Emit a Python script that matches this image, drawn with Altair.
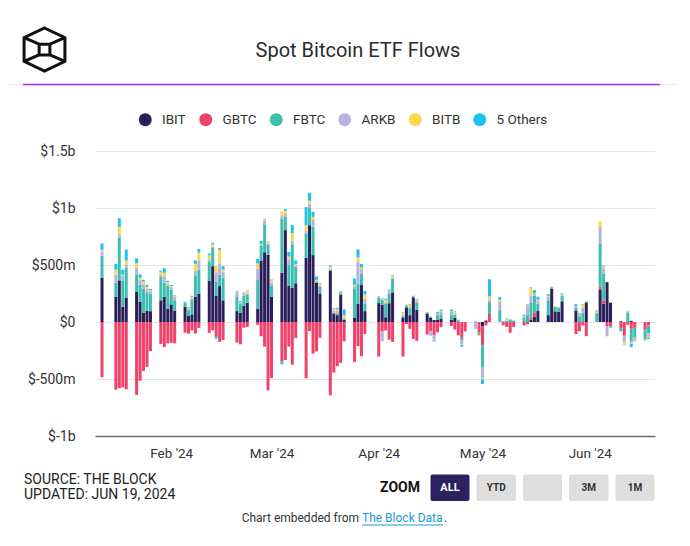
import altair as alt
import pandas as pd

FONT = "Roboto"

dates = [
    "2024-01-12", "2024-01-16", "2024-01-17", "2024-01-18", "2024-01-19",
    "2024-01-22", "2024-01-23", "2024-01-24", "2024-01-25", "2024-01-26",
    "2024-01-29", "2024-01-30", "2024-01-31", "2024-02-01", "2024-02-02",
    "2024-02-05", "2024-02-06", "2024-02-07", "2024-02-08", "2024-02-09",
    "2024-02-12", "2024-02-13", "2024-02-14", "2024-02-15", "2024-02-16",
    "2024-02-20", "2024-02-21", "2024-02-22", "2024-02-23",
    "2024-02-26", "2024-02-27", "2024-02-28", "2024-02-29", "2024-03-01",
    "2024-03-04", "2024-03-05", "2024-03-06", "2024-03-07", "2024-03-08",
    "2024-03-11", "2024-03-12", "2024-03-13", "2024-03-14", "2024-03-15",
    "2024-03-18", "2024-03-19", "2024-03-20", "2024-03-21", "2024-03-22",
    "2024-03-25", "2024-03-26", "2024-03-27", "2024-03-28",
    "2024-04-01", "2024-04-02", "2024-04-03", "2024-04-04", "2024-04-05",
    "2024-04-08", "2024-04-09", "2024-04-10", "2024-04-11", "2024-04-12",
    "2024-04-15", "2024-04-16", "2024-04-17", "2024-04-18", "2024-04-19",
    "2024-04-22", "2024-04-23", "2024-04-24", "2024-04-25", "2024-04-26",
    "2024-04-29", "2024-04-30", "2024-05-01", "2024-05-02", "2024-05-03",
    "2024-05-06", "2024-05-07", "2024-05-08", "2024-05-09", "2024-05-10",
    "2024-05-13", "2024-05-14", "2024-05-15", "2024-05-16", "2024-05-17",
    "2024-05-20", "2024-05-21", "2024-05-22", "2024-05-23", "2024-05-24",
    "2024-05-28", "2024-05-29", "2024-05-30", "2024-05-31",
    "2024-06-03", "2024-06-04", "2024-06-05", "2024-06-06", "2024-06-07",
    "2024-06-10", "2024-06-11", "2024-06-12", "2024-06-13", "2024-06-14",
    "2024-06-17", "2024-06-18",
]

# flows in $m
ibit = [386, 220, 365, 135, 215, 263, 178, 80, 100, 95, 190, 222, 117, 155, 100,
        134, 53, 67, 220, 250, 360, 490, 228, 315, 190, 96, 82, 140, 169,
        114, 540, 612, 590, 222,
        432, 806, 320, 300, 340, 563, 849, 587, 345, 250, 451, 75, 60, 240, 20,
        35, 162, 324, 95,
        166, 150, 42, 165, 260, 40, 128, 60, 216, 108, 73, 37, 18, 19, 29,
        20, 35, 0, 0, 0,
        0, 0, -37, 12, 0, 0, 0, 0, 5, 0, 0, 0, 20, 45, 100, 60, 290, 93, 89, 182,
        102, 0, 0, 170,
        0, 286, 160, 350, 168, 6, 0, 0, 10, 0, 0, 0]
gbtc = [-484, -594, -580, -575, -590, -640, -515, -429, -394, -255, -192, -220, -187, -182, -187,
        -94, -102, -73, -102, -52, -95, -73, -130, -174, -158, -181, -196, -50, -44,
        -25, -125, -216, -599, -492,
        -345, -333, -216, -375, -140, -494, -79, -277, -258, -139, -643, -443, -387, -359, -170,
        -350, -212, -300, -105,
        -303, -82, -75, -155, -175, -303, -18, -60, -149, -164, -110, -80, -115, -90, -46,
        -35, -66, -115, -139, -82,
        -5, -93, -167, -30, 70, 4, -29, -44, -95, -45, -30, -20, 20, 35, 0, 0, 0, 0, 0, 0,
        -105, -80, -30, -124,
        0, 23, 30, -35, -40, -52, -121, -25, -60, -52, -62, -30]
fbtc = [195, 125, 375, 230, 260, 155, 150, 210, 160, 150, 205, 120, 200, 130, 90,
        35, 50, 125, 190, 210, 170, 160, 125, 100, 200, 130, 75, 90, 75,
        254, 130, 245, 85, 95,
        476, 120, 180, 380, 145, 215, 150, 250, 10, 60, 10, 5, 10, 20, 10,
        261, 170, 100, 68,
        44, 45, 118, 80, 120, 10, 15, 60, 10, 60, 10, 10, 0, 40, 40,
        40, 30, 15, -23, 0,
        5, -20, -191, 5, 105, 100, 5, 10, 15, 10, 40, 60, 130, 150, 60, 130, 15, 40, 35, 50,
        20, 50, 80, 10,
        77, 380, 235, 0, 5, -10, 0, 80, -106, -80, -92, -70]
arkb = [38, 70, 30, 40, 30, 60, 40, 40, 30, 25, 20, 60, 20, 20, 30,
        5, 10, 15, 40, 80, 20, 10, 80, 100, 50, 35, 15, 25, 5,
        100, 10, 30, 10, 30,
        20, 25, 50, 30, 10, 20, 40, 60, 5, 10, 10, 20, 25, 0, 5,
        20, 200, 40, 40,
        10, -88, 10, 20, 10, 10, 5, 10, 5, 20, 5, -40, -40, 20, 25,
        30, 10, -5, -31, -5,
        -50, 0, -98, 0, 20, 75, 5, 5, 5, 5, 10, 80, 60, 15, 25, 30, 5, 0, 0, 10,
        10, 20, 45, 0,
        5, 146, 45, -90, 0, 0, -56, 15, -20, -35, -10, -30]
bitb = [15, 45, 65, 10, 35, 38, 20, 25, 20, 10, 25, 30, 15, 10, 10,
        0, 12, 15, 60, 70, 35, 25, 60, 120, 20, 5, 5, 5, 25,
        45, 5, 10, 15, 20,
        40, 25, 25, 70, 10, 50, 25, 25, 10, 15, 15, 15, 20, 5, 25,
        10, 35, 15, 40,
        5, 10, 25, 10, 15, 20, 5, 20, 0, 5, 0, 0, -5, 0, 5,
        5, 15, 0, -10, 0,
        0, -10, -10, 0, 30, 15, 0, 10, 0, 5, 5, 10, 70, 5, 10, 10, 0, 5, 5, 5,
        5, 5, 25, 0,
        15, 50, 20, 5, 0, 0, -20, 5, -5, -5, 0, -10]
others = [55, 50, 75, 45, 95, 42, 30, 15, 15, 10, 10, 40, 10, 10, 5,
          5, 5, 8, 30, 30, 15, 10, -15, 15, 30, 6, 7, 3, 3,
          40, 25, 5, 5, 5,
          -25, 15, 40, 70, 35, 160, 70, 45, 30, 5, 10, 5, 10, 5, 50,
          55, 70, 30, 30,
          3, 5, 10, 10, 5, 5, 2, 5, 0, 5, 0, 0, -10, 10, 10,
          15, 5, 5, -15, 0,
          -5, 0, -40, 0, 150, 25, 0, 5, 0, 0, 10, 5, 5, 30, 27, 15, 0, 0, 5, 5,
          20, 5, 5, 0,
          5, 0, 5, 0, -10, -20, -3, 0, -30, 0, 0, -10]

funds = ["IBIT", "GBTC", "FBTC", "ARKB", "BITB", "5 Others"]
colors = ["#2a1f5a", "#f0426a", "#3cbfae", "#b9b2e0", "#fbd84a", "#1cc3f2"]
series = [ibit, gbtc, fbtc, arkb, bitb, others]

rows = []
for i, d in enumerate(dates):
    for k, (name, vals) in enumerate(zip(funds, series)):
        rows.append({"date": d + "T00:00:00", "fund": name, "value": vals[i], "ord": k})
df = pd.DataFrame(rows)

W, H = 560, 285
one = pd.DataFrame({"k": [0]})

bars = alt.Chart(df).mark_bar(size=3).encode(
    x=alt.X("date:T",
            scale=alt.Scale(domain=[alt.DateTime(year=2024, month=1, date=11, hours=10),
                                    alt.DateTime(year=2024, month=6, date=18, hours=10)]),
            axis=alt.Axis(title=None, format="%b '%y", grid=False, ticks=False,
                          values=[alt.DateTime(year=2024, month=m, date=1) for m in range(2, 7)],
                          domainColor="#6b6b6b", domainWidth=1.6, labelFont=FONT,
                          labelFontSize=13.5, labelColor="#333", labelPadding=10)),
    y=alt.Y("value:Q", stack="zero",
            scale=alt.Scale(domain=[-1000, 1500], nice=False),
            axis=alt.Axis(title=None, values=[-1000, -500, 0, 500, 1000, 1500],
                          labelExpr="datum.value == 0 ? '$0' : (abs(datum.value) >= 1000 ? '$' + (datum.value/1000) + 'b' : '$' + datum.value + 'm')",
                          ticks=False, domain=False, grid=True, gridColor="#e6e6e6",
                          labelFont=FONT, labelFontSize=14, labelColor="#333", labelPadding=20)),
    color=alt.Color("fund:N", scale=alt.Scale(domain=funds, range=colors),
                    legend=alt.Legend(orient="none", legendX=43.5, legendY=-38.5,
                                      direction="horizontal", title=None, symbolType="circle",
                                      symbolSize=169, symbolStrokeWidth=0, symbolOpacity=1,
                                      labelFont=FONT, labelFontSize=13.5, labelColor="#333",
                                      labelOffset=10, columnPadding=12.5, padding=0)),
    order=alt.Order("ord:Q", sort="ascending"),
)


def txt(text, x, y, size, color="#333", align="left", weight="normal"):
    return alt.Chart(one).mark_text(text=text, align=align, baseline="middle", fontSize=size,
                                    font=FONT, color=color, fontWeight=weight).encode(
        x=alt.value(x), y=alt.value(y))


def box(x1, x2, y1, y2, color):
    return alt.Chart(one).mark_rect(color=color, cornerRadius=2).encode(
        x=alt.value(x1), x2=alt.value(x2), y=alt.value(y1), y2=alt.value(y2))


def hline(x1, x2, y, color, w):
    return alt.Chart(one).mark_rule(color=color, strokeWidth=w).encode(
        x=alt.value(x1), x2=alt.value(x2), y=alt.value(y))


logo_path = ("M0,-1L0.95,-0.55L0.95,0.55L0,1L-0.95,0.55L-0.95,-0.55Z "
             "M-0.25,-0.25L0.25,-0.25L0.25,0.25L-0.25,0.25Z "
             "M-0.95,-0.55L-0.25,-0.25 M0.95,-0.55L0.25,-0.25 "
             "M0.95,0.55L0.25,0.25 M-0.95,0.55L-0.25,0.25")
logo = alt.Chart(one).mark_point(shape=logo_path, size=1849, filled=False, color="#111",
                                 strokeWidth=3, opacity=1).encode(
    x=alt.value(-50.5), y=alt.value(-101.5))

ox, oy = 95, 151  # plot origin on the page
decor = [
    logo,
    txt("Spot Bitcoin ETF Flows", 358 - ox, 51 - oy, 20, "#2b2b2b", "center"),
    hline(4 - ox, 678 - ox, 84.5 - oy, "#ece6f5", 1),
    hline(23 - ox, 660 - ox, 84.5 - oy, "#a22df2", 1.6),
    txt("SOURCE: THE BLOCK", 24 - ox, 480 - oy, 14, "#222"),
    txt("UPDATED: JUN 19, 2024", 24 - ox, 495 - oy, 14, "#222"),
    txt("ZOOM", 400 - ox, 488 - oy, 14, "#111", "center", "bold"),
    box(430.5 - ox, 469.5 - ox, 474.5 - oy, 501 - oy, "#2d225f"),
    box(476.5 - ox, 516 - ox, 474.5 - oy, 501 - oy, "#dedede"),
    box(523 - ox, 562 - ox, 474.5 - oy, 501 - oy, "#dedede"),
    box(569 - ox, 608.5 - ox, 474.5 - oy, 501 - oy, "#dedede"),
    box(615.5 - ox, 654.5 - ox, 474.5 - oy, 501 - oy, "#dedede"),
    txt("ALL", 450 - ox, 488 - oy, 11, "#ffffff", "center", "bold"),
    txt("YTD", 496.3 - ox, 488 - oy, 10, "#333", "center", "bold"),
    txt("3M", 588.8 - ox, 488 - oy, 10, "#333", "center", "bold"),
    txt("1M", 635 - ox, 488 - oy, 10, "#333", "center", "bold"),
    txt("Chart embedded from", 359 - ox, 518 - oy, 12, "#333", "right"),
    txt("The Block Data", 362 - ox, 518 - oy, 12, "#1a9bd7", "left"),
    txt(".", 444 - ox, 518 - oy, 12, "#333", "left"),
    hline(362 - ox, 443 - ox, 525 - oy, "#1a9bd7", 1),
]

chart = alt.layer(bars, *decor).properties(
    width=W, height=H,
    autosize=alt.AutoSizeParams(type="none"),
    padding={"left": ox - 8, "top": oy - 8, "right": 674 - (ox - 8) - W, "bottom": 526 - (oy - 8) - H},
).configure_view(stroke=None)

chart.save("out.html", embed_options={"renderer": "svg", "actions": False})
